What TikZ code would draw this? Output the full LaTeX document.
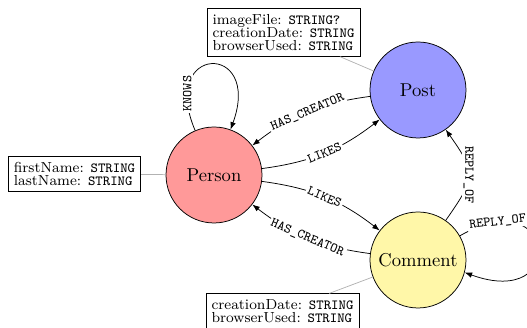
\documentclass[tikz,border=0pt]{standalone}
\usetikzlibrary{arrows.meta}
\definecolor{cyellow}{RGB}{255,247,168}
\newcommand{\typestr}[1]{{\ttfamily\fontsize{7.5}{7}\selectfont #1}}
\begin{document}
\begin{tikzpicture}[x=0.5376pt,y=0.5376pt,
  entity/.style={circle,draw,minimum size=51.6pt,inner sep=0pt,font=\fontsize{10}{12}\selectfont},
  propbox/.style={draw,align=left,inner sep=3pt,font=\fontsize{7.8}{7}\selectfont},
  rel/.style={-{Latex[length=4pt,width=3pt]}},
  rlabel/.style={font=\ttfamily\fontsize{7.2}{8}\selectfont,fill=white,inner sep=1pt},
  attach/.style={draw=gray!60,line width=0.4pt}]
\useasboundingbox (0,0) rectangle (527,328);
\node[entity,fill=red!40] (Person) at (214,153) {Person};
\node[entity,fill=blue!40] (Post) at (418,238) {Post};
\node[entity,fill=cyellow] (Comment) at (418,68) {Comment};
\node[propbox] (postprops) at (283.5,295.5) {imageFile: \typestr{STRING?}\\creationDate: \typestr{STRING}\\browserUsed: \typestr{STRING}};
\node[propbox] (personprops) at (74.5,154) {firstName: \typestr{STRING}\\lastName: \typestr{STRING}};
\node[propbox] (commentprops) at (282.5,17) {creationDate: \typestr{STRING}\\browserUsed: \typestr{STRING}};
\draw[attach] (postprops) -- (Post);
\draw[attach] (personprops) -- (Person);
\draw[attach] (commentprops) -- (Comment);
\draw[rel] (Person) to[bend right=15] node[rlabel,sloped]{LIKES} (Post);
\draw[rel] (Post) to[bend right=15] node[rlabel,sloped]{HAS\_CREATOR} (Person);
\draw[rel] (Person) to[bend left=15] node[rlabel,sloped]{LIKES} (Comment);
\draw[rel] (Comment) to[bend left=15] node[rlabel,sloped]{HAS\_CREATOR} (Person);
\draw[rel] (Comment) to[bend right=35,looseness=1.5] node[rlabel,rotate=-90]{REPLY\_OF} (Post);
\draw[rel] (Person.113) .. controls +(113:94) and +(70:94) .. (Person.70) node[pos=0.17,rlabel,rotate=90]{KNOWS};
\draw[rel] (Comment.30) .. controls +(30:112) and +(-20:111) .. (Comment.-15) node[pos=0.15,rlabel,sloped]{REPLY\_OF};
\end{tikzpicture}
\end{document}
